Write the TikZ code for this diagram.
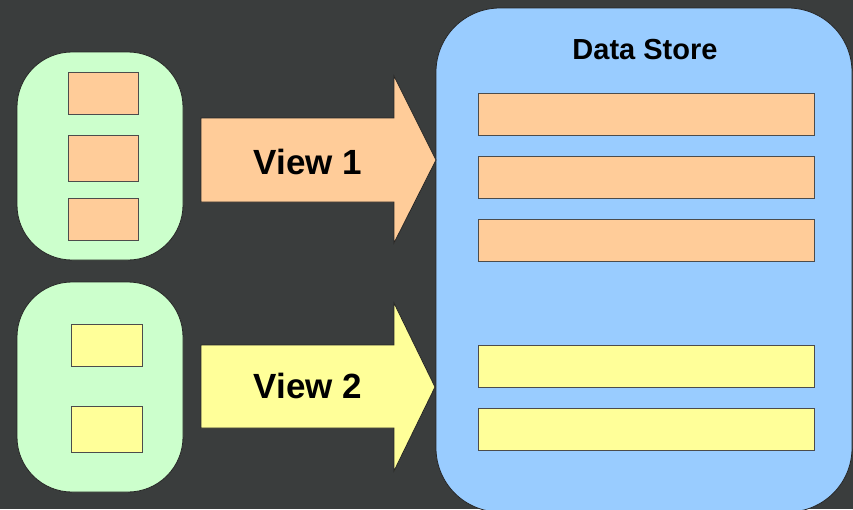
\documentclass[tikz,border=0pt]{standalone}
\usepackage{fontspec}
\setmainfont{Liberation Sans}
\begin{document}
\begin{tikzpicture}[x=1pt,y=-1pt,
  outline/.style={draw=black!85,line width=0.8pt},
  holder/.style={outline,fill=greenfill,rounded corners=55pt,inner sep=0pt},
  store/.style={outline,fill=bluefill,rounded corners=64pt,inner sep=0pt},
  item/.style={draw=black!70,line width=0.8pt,inner sep=0pt},
  orangeitem/.style={item,fill=orangefill},
  yellowitem/.style={item,fill=yellowfill},
  bigarrow/.style={outline,line join=miter},
  viewlabel/.style={font=\fontsize{35}{40}\selectfont\bfseries,text=black},
  titlelabel/.style={font=\fontsize{29}{34}\selectfont\bfseries,text=black}]
\definecolor{bgcol}{HTML}{3A3D3D}
\definecolor{greenfill}{HTML}{CCFFCC}
\definecolor{bluefill}{HTML}{99CCFF}
\definecolor{orangefill}{HTML}{FFCC99}
\definecolor{yellowfill}{HTML}{FFFF99}

% canvas
\fill[bgcol] (0,0) rectangle (853,509);
\useasboundingbox (0,0) rectangle (853,509);

% data store
\begin{scope}
\clip (0,0) rectangle (853,509);
\node[store,minimum width=416pt,minimum height=504pt] (ds) at (644,260) {};
\end{scope}
\node[titlelabel] (dstitle) at (645,50) {Data Store};
\node[orangeitem,minimum width=336pt,minimum height=42pt] (r1) at (646,114) {};
\node[orangeitem,minimum width=336pt,minimum height=42pt] (r2) at (646,177) {};
\node[orangeitem,minimum width=336pt,minimum height=42pt] (r3) at (646,240) {};
\node[yellowitem,minimum width=336pt,minimum height=42pt] (r4) at (646,366) {};
\node[yellowitem,minimum width=336pt,minimum height=42pt] (r5) at (646,429) {};

% first view
\node[holder,minimum width=166pt,minimum height=208pt] (v1) at (100,156) {};
\node[orangeitem,minimum width=70pt,minimum height=42pt] (a1) at (103,93) {};
\node[orangeitem,minimum width=70pt,minimum height=46pt] (a2) at (103,158) {};
\node[orangeitem,minimum width=70pt,minimum height=42pt] (a3) at (103,219) {};

% second view
\node[holder,minimum width=166pt,minimum height=210pt] (v2) at (100,387) {};
\node[yellowitem,minimum width=71pt,minimum height=42pt] (b1) at (106.5,345) {};
\node[yellowitem,minimum width=71pt,minimum height=46pt] (b2) at (106.5,429) {};

% block arrows
\coordinate (t1) at (436,160);
\coordinate (t2) at (435,387);
\draw[bigarrow,fill=orangefill] (201,118) -- (394,118) -- (394,76) -- (t1)
  -- (394,243) -- (394,202) -- (201,202) -- cycle;
\draw[bigarrow,fill=yellowfill] (201,345) -- (394,345) -- (394,303) -- (t2)
  -- (394,471) -- (394,428) -- (201,428) -- cycle;
\node[viewlabel] (l1) at (308,162) {View 1};
\node[viewlabel] (l2) at (308,386) {View 2};
\end{tikzpicture}
\end{document}
